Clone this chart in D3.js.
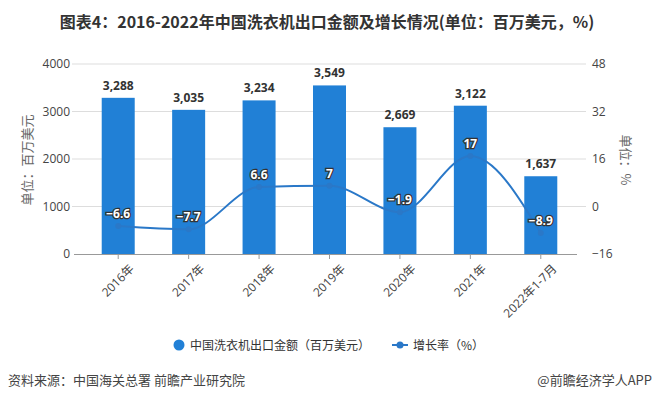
<!DOCTYPE html>
<html>
<head>
<meta charset="utf-8">
<script src="https://cdn.jsdelivr.net/npm/d3@7"></script>
<style>
  body { margin: 0; background: #fff; }
  svg { font-family: "Noto Sans CJK SC", "Noto Sans", sans-serif; }
</style>
</head>
<body>
<div id="chart"></div>
<script>
const categories = ["2016年", "2017年", "2018年", "2019年", "2020年", "2021年", "2022年1-7月"];
const exportValues = [3288, 3035, 3234, 3549, 2669, 3122, 1637];
const growthRates = [-6.6, -7.7, 6.6, 7, -1.9, 17, -8.9];
const leftTicks = [0, 1000, 2000, 3000, 4000];
const rightTicks = [-16, 0, 16, 32, 48];

const width = 655, height = 400;
const barColor = "#2180d6";
const lineColor = "#2a78c8";

const svg = d3.select("#chart")
  .append("svg")
  .attr("width", width)
  .attr("height", height);

/* title */
svg.append("text")
  .attr("x", 327)
  .attr("y", 28)
  .attr("text-anchor", "middle")
  .style("font-size", "16px")
  .style("font-weight", "bold")
  .style("fill", "#333")
  .text("图表4：2016-2022年中国洗衣机出口金额及增长情况(单位：百万美元，%)");

const xScale = d3.scaleBand()
  .domain(categories)
  .range([83, 576])
  .padding(0);

const yLeft = d3.scaleLinear()
  .domain([0, 4000])
  .range([254, 64]);

const yRight = d3.scaleLinear()
  .domain([-16, 48])
  .range([254, 64]);

/* grid lines */
svg.selectAll(".grid")
  .data(leftTicks.slice(1))
  .enter()
  .append("line")
  .attr("x1", 72)
  .attr("x2", 586)
  .attr("y1", d => yLeft(d))
  .attr("y2", d => yLeft(d))
  .style("stroke", "#ddd")
  .style("stroke-width", 1);

/* left axis */
const leftAxis = d3.axisLeft(yLeft).tickValues(leftTicks).tickFormat(d3.format("d")).tickSize(0).tickPadding(0);
svg.append("g")
  .attr("transform", "translate(70,0)")
  .call(leftAxis)
  .call(g => g.select(".domain").remove())
  .selectAll("text")
  .style("font-size", "12px")
  .style("fill", "#444")
  .style("font-family", "'Open Sans', sans-serif");

/* right axis */
const rightAxis = d3.axisRight(yRight).tickValues(rightTicks).tickSize(0).tickPadding(0);
svg.append("g")
  .attr("transform", "translate(592,0)")
  .call(rightAxis)
  .call(g => g.select(".domain").remove())
  .selectAll("text")
  .style("font-size", "12px")
  .style("fill", "#444")
  .style("font-family", "'Open Sans', sans-serif");

/* axis names */
svg.append("text")
  .attr("transform", "translate(32,160) rotate(-90)")
  .attr("text-anchor", "middle")
  .style("font-size", "13px")
  .style("fill", "#666")
  .text("单位：百万美元");

svg.append("text")
  .attr("transform", "translate(621,160) rotate(90)")
  .attr("text-anchor", "middle")
  .style("font-size", "13px")
  .style("fill", "#666")
  .text("单位：%");

/* bars */
const barW = 33;
svg.selectAll(".bar")
  .data(exportValues)
  .enter()
  .append("rect")
  .attr("x", (d, i) => xScale(categories[i]) + xScale.bandwidth() / 2 - barW / 2)
  .attr("y", d => yLeft(d))
  .attr("width", barW)
  .attr("height", d => yLeft(0) - yLeft(d))
  .style("fill", barColor);

/* bottom axis */
const xAxis = d3.axisBottom(xScale).tickSize(5).tickSizeOuter(0);
svg.append("g")
  .attr("transform", "translate(0,254)")
  .call(xAxis)
  .call(g => g.select(".domain").attr("d", "M74,0.5H577").style("stroke", "#999"))
  .call(g => g.selectAll(".tick line").style("stroke", "#999"))
  .selectAll("text")
  .attr("text-anchor", "end")
  .attr("transform", "translate(5,4) rotate(-45)")
  .attr("dy", "0.7em")
  .style("font-size", "12px")
  .style("fill", "#444")
  .style("font-family", "'Open Sans', 'Noto Sans CJK SC', sans-serif");

/* bar labels */
svg.selectAll(".barLabel")
  .data(exportValues)
  .enter()
  .append("text")
  .attr("x", (d, i) => xScale(categories[i]) + xScale.bandwidth() / 2)
  .attr("y", d => yLeft(d) - 8)
  .attr("text-anchor", "middle")
  .style("font-size", "12px")
  .style("font-weight", "bold")
  .style("fill", "#333")
  .style("font-family", "'Open Sans', sans-serif")
  .text(d => d3.format(",")(d));

/* growth line */
const line = d3.line()
  .x((d, i) => xScale(categories[i]) + xScale.bandwidth() / 2)
  .y(d => yRight(d))
  .curve(d3.curveMonotoneX);

svg.append("path")
  .datum(growthRates)
  .attr("d", line)
  .style("fill", "none")
  .style("stroke", lineColor)
  .style("stroke-width", 2);

svg.selectAll(".pt")
  .data(growthRates)
  .enter()
  .append("circle")
  .attr("cx", (d, i) => xScale(categories[i]) + xScale.bandwidth() / 2)
  .attr("cy", d => yRight(d))
  .attr("r", 3)
  .style("fill", lineColor);

svg.selectAll(".lineLabel")
  .data(growthRates)
  .enter()
  .append("text")
  .attr("x", (d, i) => xScale(categories[i]) + xScale.bandwidth() / 2)
  .attr("y", d => yRight(d) - 8)
  .attr("text-anchor", "middle")
  .style("font-size", "12px")
  .style("font-weight", "bold")
  .style("fill", "#fff")
  .style("stroke", "#333")
  .style("stroke-width", 2.5)
  .style("paint-order", "stroke")
  .style("font-family", "'Open Sans', sans-serif")
  .text(d => d < 0 ? "−" + Math.abs(d) : d);

/* legend */
const legend = svg.append("g");
legend.append("circle")
  .attr("cx", 179).attr("cy", 345).attr("r", 5.5)
  .style("fill", barColor);
legend.append("text")
  .attr("x", 190).attr("y", 349.5)
  .style("font-size", "12px")
  .style("fill", "#333")
  .text("中国洗衣机出口金额（百万美元）");
legend.append("line")
  .attr("x1", 392).attr("x2", 408).attr("y1", 345).attr("y2", 345)
  .style("stroke", lineColor).style("stroke-width", 2);
legend.append("circle")
  .attr("cx", 400).attr("cy", 345).attr("r", 3.5)
  .style("fill", lineColor);
legend.append("text")
  .attr("x", 413).attr("y", 349.5)
  .style("font-size", "12px")
  .style("fill", "#333")
  .text("增长率（%）");

/* source */
svg.append("text")
  .attr("x", 8).attr("y", 385)
  .style("font-size", "13px")
  .style("fill", "#444")
  .text("资料来源：中国海关总署 前瞻产业研究院");

svg.append("text")
  .attr("x", 652).attr("y", 385)
  .attr("text-anchor", "end")
  .style("font-size", "13px")
  .style("fill", "#444")
  .text("@前瞻经济学人APP");
</script>
</body>
</html>
